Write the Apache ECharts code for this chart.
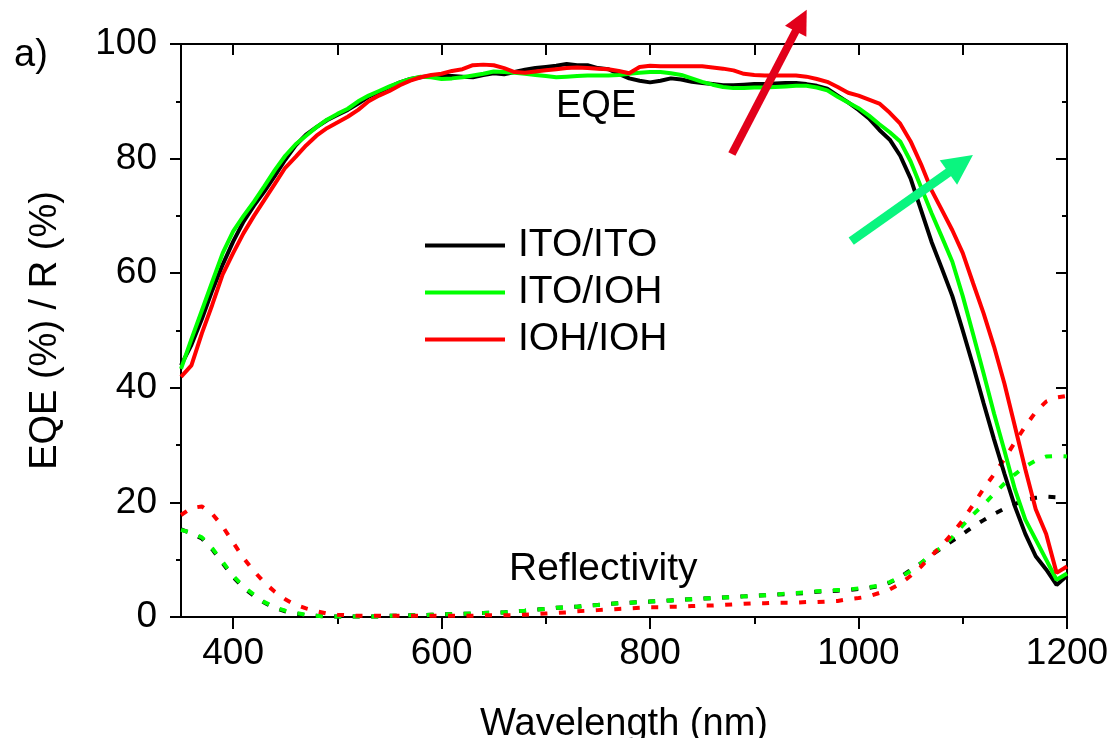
<!DOCTYPE html>
<html>
<head>
<meta charset="utf-8">
<script src="https://cdn.jsdelivr.net/npm/echarts@6/dist/echarts.min.js"></script>
<style>
  html, body { margin: 0; padding: 0; background: #fff; }
  #chart { width: 1113px; height: 738px; }
</style>
</head>
<body>
<div id="chart"></div>
<script>
// Wavelength grid (nm)
const wavelengths = [
  350,360,370,380,390,400,410,420,430,440,450,460,470,480,490,500,510,520,530,540,
  550,560,570,580,590,600,610,620,630,640,650,660,670,680,690,700,710,720,730,740,
  750,760,770,780,790,800,810,820,830,840,850,860,870,880,890,900,910,920,930,940,
  950,960,970,980,990,1000,1010,1020,1030,1040,1050,1060,1070,1080,1090,1100,1110,1120,1130,1140,
  1150,1160,1170,1180,1190,1200
];

// External quantum efficiency (%)
const eqeItoIto = [
  43.9,47.5,52.0,57.0,61.5,65.5,69.0,71.8,74.3,77.0,79.8,82.3,84.2,85.5,86.7,87.6,88.5,89.6,90.8,91.6,
  92.5,93.3,93.9,94.2,94.4,94.5,94.4,94.3,94.2,94.6,94.9,94.7,95.1,95.5,95.8,96.0,96.2,96.5,96.3,96.3,
  95.8,95.6,94.8,94.0,93.6,93.3,93.6,94.0,93.8,93.4,93.2,93.0,92.8,92.8,92.9,93.0,93.0,93.1,93.2,93.2,
  93.0,92.7,92.2,91.0,89.8,88.5,87.0,85.0,83.3,80.5,76.5,71.0,65.5,60.8,56.0,50.0,43.8,37.3,31.0,25.0,
  19.3,14.5,10.6,8.3,5.6,7.2
];
const eqeItoIoh = [
  43.3,48.5,53.5,58.5,63.5,67.3,70.0,72.5,75.2,78.0,80.5,82.5,84.0,85.5,86.8,87.8,88.7,90.0,91.0,91.8,
  92.6,93.3,93.9,94.3,94.2,93.9,94.0,94.2,94.5,94.8,95.2,95.1,95.0,94.8,94.6,94.4,94.2,94.3,94.4,94.5,
  94.5,94.5,94.6,94.8,95.0,95.1,95.1,94.9,94.6,94.0,93.4,92.9,92.5,92.3,92.3,92.4,92.4,92.5,92.6,92.7,
  92.7,92.4,91.9,90.8,89.8,88.8,87.5,86.0,84.6,83.0,79.5,75.0,70.5,66.3,62.0,56.0,49.3,42.5,35.5,29.0,
  22.3,17.0,13.5,10.0,6.5,7.6
];
const eqeIohIoh = [
  41.9,43.9,49.5,54.5,59.8,63.5,67.0,70.0,72.8,75.6,78.4,80.3,82.3,84.0,85.3,86.3,87.3,88.5,90.0,91.0,
  91.8,92.8,93.6,94.2,94.6,94.8,95.3,95.6,96.3,96.4,96.3,95.8,95.1,95.0,95.2,95.4,95.6,95.8,95.9,95.8,
  95.7,95.6,95.3,94.9,96.0,96.2,96.1,96.1,96.1,96.1,96.1,95.9,95.7,95.4,94.8,94.6,94.5,94.5,94.5,94.5,
  94.3,93.9,93.4,92.5,91.5,91.0,90.3,89.6,88.0,86.1,83.0,79.0,74.5,71.0,67.5,63.5,58.2,53.0,47.2,40.7,
  33.3,25.8,18.8,14.5,7.7,8.8
];

// Reflectivity (%)
const reflItoIto = [
  15.3,14.6,13.7,11.8,9.4,7.0,5.1,3.7,2.5,1.6,1.0,0.6,0.3,0.2,0.1,0.1,0.1,0.1,0.1,0.1,
  0.2,0.2,0.3,0.3,0.4,0.45,0.5,0.55,0.6,0.7,0.75,0.8,1.0,1.1,1.3,1.4,1.6,1.7,1.8,2.0,
  2.1,2.3,2.4,2.5,2.6,2.7,2.8,2.9,3.0,3.1,3.2,3.3,3.4,3.5,3.6,3.7,3.8,3.9,4.0,4.1,
  4.2,4.4,4.5,4.6,4.7,4.9,5.1,5.4,6.0,7.0,8.2,9.4,10.8,12.1,13.3,14.5,15.8,16.9,18.0,18.9,
  19.7,20.4,20.8,21.0,20.9,20.4
];
const reflItoIoh = [
  15.2,14.7,13.9,12.0,9.6,7.2,5.3,3.9,2.6,1.7,1.1,0.7,0.4,0.2,0.1,0.1,0.1,0.1,0.1,0.1,
  0.2,0.2,0.3,0.3,0.4,0.45,0.5,0.55,0.6,0.7,0.75,0.8,1.0,1.1,1.3,1.4,1.6,1.7,1.8,2.0,
  2.1,2.3,2.4,2.5,2.6,2.7,2.8,2.9,3.0,3.1,3.2,3.3,3.4,3.5,3.6,3.7,3.8,3.9,4.1,4.2,
  4.3,4.5,4.6,4.7,4.8,5.0,5.2,5.5,6.1,7.0,8.0,9.4,11.0,12.2,13.9,16.0,17.9,19.6,21.5,23.3,
  24.9,26.3,27.3,28.0,28.1,28.0
];
const reflIohIoh = [
  17.8,19.0,19.3,18.0,15.8,13.0,10.3,8.0,6.0,4.4,3.1,2.1,1.5,1.0,0.6,0.4,0.3,0.2,0.2,0.2,
  0.2,0.2,0.2,0.2,0.2,0.2,0.2,0.2,0.2,0.3,0.3,0.3,0.3,0.4,0.5,0.6,0.7,0.8,1.0,1.1,
  1.2,1.3,1.4,1.5,1.6,1.7,1.7,1.8,1.8,1.9,2.0,2.0,2.1,2.2,2.3,2.4,2.4,2.5,2.5,2.5,
  2.6,2.6,2.7,2.8,3.1,3.3,3.6,4.2,4.8,5.8,7.2,8.8,10.7,12.5,14.6,16.9,19.6,22.4,24.9,27.6,
  30.5,33.3,35.8,37.6,38.3,38.6
];

// Axis ticks
const xMajorTicks = [400, 600, 800, 1000, 1200];
const xMinorTicks = [500, 700, 900, 1100];

// Trend arrows: [from, to] in (wavelength, %) coordinates
const arrowRed = [[878.5, 80.8], [945, 104.1]];
const arrowGreen = [[993, 65.6], [1098, 79.1]];

const sampleNames = ['ITO/ITO', 'ITO/IOH', 'IOH/IOH'];
const sampleColors = ['#000000', '#00ff00', '#ff0000'];

const FONT = 'Liberation Sans, Arial, sans-serif';

function pairs(ys) {
  return wavelengths.map((w, i) => [w, ys[i]]);
}

const eqeSets = [eqeItoIto, eqeItoIoh, eqeIohIoh];
const reflSets = [reflItoIto, reflItoIoh, reflIohIoh];

const series = [];
// Reflectivity: dotted curves
reflSets.forEach((ys, k) => {
  series.push({
    name: 'R ' + sampleNames[k],
    type: 'line',
    data: pairs(ys),
    showSymbol: false,
    symbol: 'none',
    color: sampleColors[k],
    lineStyle: { width: 4, type: [7, 11.5], cap: 'butt', color: sampleColors[k] },
    z: 2 + k
  });
});
// EQE: solid curves
eqeSets.forEach((ys, k) => {
  series.push({
    name: sampleNames[k],
    type: 'line',
    data: pairs(ys),
    showSymbol: false,
    symbol: 'none',
    color: sampleColors[k],
    lineStyle: { width: 4, color: sampleColors[k] },
    z: 5 + k
  });
});
// Arrows
[[arrowRed, '#e2001a', 8, 24], [arrowGreen, '#0af57f', 9, 30]].forEach(([coords, col, w, head]) => {
  series.push({
    type: 'lines',
    coordinateSystem: 'cartesian2d',
    clip: false,
    silent: true,
    symbol: ['none', 'triangle'],
    symbolSize: head,
    lineStyle: { color: col, width: w, opacity: 1, curveness: 0 },
    data: [{ coords: coords }],
    z: 10
  });
});

const axisLine = { show: true, lineStyle: { color: '#000', width: 2 } };
const xBase = { type: 'value', min: 350, max: 1200, splitLine: { show: false }, axisLine: axisLine };
const plainNumber = v => String(v);

const option = {
  animation: false,
  backgroundColor: '#fff',
  grid: { left: 181, right: 46, top: 44, bottom: 121, containLabel: false, outerBoundsMode: 'none' },
  legend: {
    data: sampleNames,
    orient: 'vertical',
    left: 425,
    top: 226,
    padding: 0,
    icon: 'rect',
    itemWidth: 80,
    itemHeight: 4,
    itemGap: 8,
    textStyle: { fontFamily: FONT, fontSize: 39, color: '#000', lineHeight: 39, padding: [0, 0, 0, 8] },
    selectedMode: false
  },
  xAxis: [
    Object.assign({}, xBase, {
      position: 'bottom',
      name: 'Wavelength (nm)',
      nameLocation: 'middle',
      nameGap: 89,
      nameTextStyle: { fontFamily: FONT, fontSize: 38, color: '#000' },
      axisTick: { show: true, length: 12, inside: false, customValues: xMajorTicks, lineStyle: { color: '#000', width: 2 } },
      axisLabel: { show: true, customValues: xMajorTicks, formatter: plainNumber, margin: 18, fontFamily: FONT, fontSize: 37, color: '#000' }
    }),
    Object.assign({}, xBase, {
      position: 'bottom',
      axisTick: { show: true, length: 7, inside: false, customValues: xMinorTicks, lineStyle: { color: '#000', width: 2 } },
      axisLabel: { show: false }
    }),
    Object.assign({}, xBase, {
      position: 'top',
      axisTick: { show: true, length: 11, inside: true, customValues: xMajorTicks, lineStyle: { color: '#000', width: 2 } },
      axisLabel: { show: false }
    }),
    Object.assign({}, xBase, {
      position: 'top',
      axisTick: { show: true, length: 11, inside: true, customValues: xMinorTicks, lineStyle: { color: '#000', width: 2 } },
      axisLabel: { show: false }
    })
  ],
  yAxis: [
    {
      type: 'value', min: 0, max: 100, interval: 20, position: 'left',
      name: 'EQE (%) / R (%)',
      nameLocation: 'middle',
      nameGap: 116,
      nameTextStyle: { fontFamily: FONT, fontSize: 38, color: '#000' },
      splitLine: { show: false },
      axisLine: axisLine,
      axisTick: { show: true, length: 11, inside: false, lineStyle: { color: '#000', width: 2 } },
      minorTick: { show: true, splitNumber: 2, length: 5, lineStyle: { color: '#000', width: 2 } },
      axisLabel: { margin: 24, formatter: plainNumber, fontFamily: FONT, fontSize: 37, color: '#000' }
    },
    {
      type: 'value', min: 0, max: 100, interval: 20, position: 'right',
      splitLine: { show: false },
      axisLine: axisLine,
      axisTick: { show: true, length: 11, inside: true, lineStyle: { color: '#000', width: 2 } },
      minorTick: { show: true, splitNumber: 2, length: 5, lineStyle: { color: '#000', width: 2 } },
      axisLabel: { show: false }
    }
  ],
  graphic: [
    { type: 'text', left: 14, top: 37, style: { text: 'a)', fontFamily: FONT, fontSize: 38, fill: '#000' } },
    { type: 'text', left: 556, top: 88, style: { text: 'EQE', fontFamily: FONT, fontSize: 38, fill: '#000' } },
    { type: 'text', left: 509, top: 550, style: { text: 'Reflectivity', fontFamily: FONT, fontSize: 39, fill: '#000' } }
  ],
  series: series
};

const chart = echarts.init(document.getElementById('chart'), null, { renderer: 'canvas' });
chart.setOption(option);
</script>
</body>
</html>
